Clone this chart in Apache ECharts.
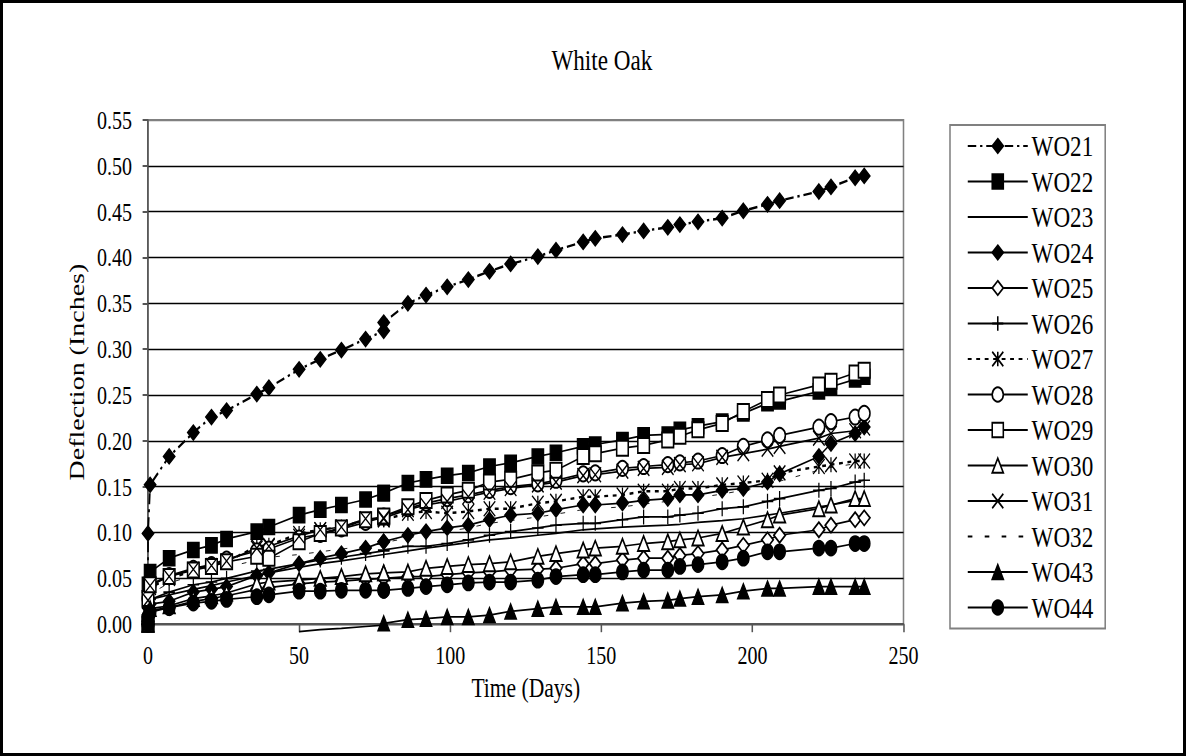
<!DOCTYPE html>
<html>
<head>
<meta charset="utf-8">
<title>White Oak</title>
<script src="https://cdn.jsdelivr.net/npm/echarts@6/dist/echarts.min.js"></script>
<style>
  html, body { margin: 0; padding: 0; background: #fff; }
  #chart { position: absolute; left: 0; top: 0; height: 756px; transform-origin: 0 0; }
  #frame { position: absolute; left: 0; top: 0; width: 1186px; height: 756px; box-sizing: border-box;
           border: 3px solid #000; pointer-events: none; z-index: 2; }
</style>
</head>
<body>
<div id="chart"></div>
<div id="frame"></div>
<script>
// Measurement days (two readings on the load day, two on day 78)
const days = [0, 0, 0.7, 7, 15, 21, 26, 36, 40, 50, 57, 64, 72, 78, 78, 86, 92, 99, 106, 113, 120,
  129, 135, 144, 148, 157, 164, 172, 176, 182, 190, 197, 205, 209, 222, 226, 234, 237];

// Deflection (inches) for each specimen at the days above
const wo21 = [0, 0.099, 0.152, 0.183, 0.209, 0.226, 0.233, 0.251, 0.258, 0.278, 0.289, 0.299, 0.311, 0.320, 0.329,
  0.350, 0.359, 0.368, 0.376, 0.385, 0.393, 0.401, 0.408, 0.417, 0.421, 0.425, 0.429, 0.433, 0.436, 0.439, 0.443,
  0.451, 0.458, 0.462, 0.472, 0.477, 0.487, 0.489];
const wo22 = [0, 0.043, 0.057, 0.072, 0.081, 0.086, 0.093, 0.101, 0.106, 0.119, 0.125, 0.130, 0.136, 0.143, 0.143,
  0.154, 0.158, 0.162, 0.165, 0.172, 0.176, 0.183, 0.187, 0.194, 0.196, 0.201, 0.206, 0.207, 0.212, 0.216, 0.221,
  0.230, 0.241, 0.243, 0.254, 0.259, 0.267, 0.270];
const wo23 = [0, 0.020, 0.027, 0.032, 0.038, 0.042, 0.046, 0.053, 0.056, 0.062, 0.066, 0.069, 0.073, 0.076, 0.076,
  0.080, 0.083, 0.086, 0.089, 0.092, 0.094, 0.097, 0.099, 0.103, 0.104, 0.106, 0.107, 0.108, 0.109, 0.111, 0.113,
  0.115, 0.119, 0.121, 0.128, 0.130, 0.135, 0.137];
const wo24 = [0, 0.018, 0.022, 0.025, 0.035, 0.038, 0.041, 0.053, 0.056, 0.066, 0.072, 0.077, 0.083, 0.090, 0.090,
  0.097, 0.101, 0.105, 0.108, 0.114, 0.119, 0.121, 0.125, 0.130, 0.130, 0.132, 0.135, 0.137, 0.141, 0.141, 0.146,
  0.148, 0.155, 0.164, 0.183, 0.197, 0.208, 0.215];
const wo25 = [0, 0.010, 0.015, 0.018, 0.025, 0.028, 0.031, 0.038, 0.040, 0.044, 0.046, 0.047, 0.049, 0.050, 0.050,
  0.052, 0.052, 0.054, 0.056, 0.057, 0.059, 0.060, 0.061, 0.066, 0.066, 0.070, 0.072, 0.072, 0.075, 0.077, 0.081,
  0.086, 0.092, 0.097, 0.103, 0.108, 0.114, 0.116];
const wo26 = [0, 0.018, 0.027, 0.035, 0.043, 0.046, 0.050, 0.058, 0.060, 0.066, 0.070, 0.073, 0.077, 0.080, 0.081,
  0.085, 0.085, 0.088, 0.092, 0.097, 0.101, 0.105, 0.108, 0.110, 0.110, 0.114, 0.117, 0.117, 0.119, 0.121, 0.126,
  0.128, 0.134, 0.137, 0.146, 0.148, 0.155, 0.157];
const wo27 = [0, 0.025, 0.040, 0.050, 0.058, 0.063, 0.068, 0.085, 0.086, 0.099, 0.103, 0.106, 0.114, 0.114, 0.114,
  0.121, 0.123, 0.121, 0.123, 0.126, 0.126, 0.132, 0.134, 0.139, 0.139, 0.141, 0.145, 0.145, 0.148, 0.148, 0.152,
  0.154, 0.157, 0.165, 0.172, 0.174, 0.178, 0.178];
const wo28 = [0, 0.028, 0.043, 0.053, 0.061, 0.065, 0.071, 0.080, 0.082, 0.094, 0.098, 0.104, 0.111, 0.117, 0.118,
  0.126, 0.132, 0.137, 0.141, 0.146, 0.150, 0.153, 0.157, 0.164, 0.165, 0.170, 0.172, 0.174, 0.176, 0.178, 0.184,
  0.194, 0.201, 0.206, 0.215, 0.221, 0.226, 0.230];
const wo29 = [0, 0.028, 0.043, 0.052, 0.059, 0.063, 0.068, 0.074, 0.072, 0.090, 0.099, 0.105, 0.114, 0.117, 0.118,
  0.128, 0.135, 0.141, 0.146, 0.155, 0.158, 0.165, 0.168, 0.183, 0.186, 0.192, 0.195, 0.201, 0.205, 0.212, 0.219,
  0.232, 0.245, 0.250, 0.261, 0.265, 0.274, 0.277];
const wo30 = [0, 0.012, 0.017, 0.020, 0.028, 0.031, 0.034, 0.044, 0.046, 0.048, 0.050, 0.052, 0.055, 0.056, 0.056,
  0.057, 0.061, 0.063, 0.065, 0.066, 0.068, 0.074, 0.077, 0.081, 0.083, 0.085, 0.088, 0.090, 0.092, 0.094, 0.099,
  0.106, 0.114, 0.119, 0.126, 0.130, 0.137, 0.137];
const wo31 = [0, 0.026, 0.042, 0.052, 0.060, 0.064, 0.069, 0.083, 0.085, 0.096, 0.103, 0.106, 0.115, 0.115, 0.116,
  0.125, 0.130, 0.134, 0.139, 0.144, 0.148, 0.152, 0.155, 0.162, 0.163, 0.167, 0.170, 0.171, 0.174, 0.175, 0.182,
  0.186, 0.191, 0.194, 0.203, 0.208, 0.211, 0.214];
const wo32 = [0, 0.020, 0.033, 0.045, 0.053, 0.057, 0.062, 0.070, 0.073, 0.076, 0.079, 0.082, 0.085, 0.088, 0.089,
  0.094, 0.098, 0.101, 0.105, 0.110, 0.113, 0.117, 0.120, 0.125, 0.126, 0.128, 0.131, 0.134, 0.136, 0.138, 0.142,
  0.146, 0.151, 0.156, 0.168, 0.171, 0.175, 0.177];
const wo43 = [null, null, null, null, null, null, null, null, null, -0.008, -0.006, -0.0045, -0.0025, -0.001, 0.001,
  0.005, 0.006, 0.008, 0.008, 0.010, 0.014, 0.017, 0.019, 0.019, 0.019, 0.023, 0.025, 0.026, 0.028, 0.030, 0.032,
  0.036, 0.039, 0.039, 0.041, 0.041, 0.041, 0.041];
const wo44 = [0, 0.008, 0.013, 0.018, 0.023, 0.025, 0.027, 0.030, 0.032, 0.036, 0.036, 0.037, 0.037, 0.037, 0.037,
  0.039, 0.041, 0.043, 0.045, 0.046, 0.046, 0.048, 0.052, 0.054, 0.054, 0.057, 0.059, 0.059, 0.063, 0.065, 0.068,
  0.072, 0.079, 0.079, 0.083, 0.083, 0.088, 0.088];

const xTicks = [0, 50, 100, 150, 200, 250];
const yTicks = [0, 0.05, 0.10, 0.15, 0.20, 0.25, 0.30, 0.35, 0.40, 0.45, 0.50, 0.55];

// The drawing is laid out wide and squeezed horizontally to get the narrow serif look
const SX = 0.77;
const CW = 1186 / SX;
const px = x => x / SX;
const FONT = "'Liberation Serif', 'Times New Roman', serif";

// Stroke-only marker outlines
const PLUS = 'path://M5,0L5,10M0,5L10,5';
const CROSS = 'path://M0,0L10,10M10,0L0,10';
const STAR = 'path://M0,0L10,10M10,0L0,10M5,0L5,10';

const specs = [
  { name: 'WO21', values: wo21, symbol: 'diamond', type: [11, 5, 3, 5], width: 2.4 },
  { name: 'WO22', values: wo22, symbol: 'rect' },
  { name: 'WO23', values: wo23, symbol: null },
  { name: 'WO24', values: wo24, symbol: 'diamond' },
  { name: 'WO25', values: wo25, symbol: 'emptyDiamond' },
  { name: 'WO26', values: wo26, symbol: PLUS },
  { name: 'WO27', values: wo27, symbol: STAR, type: [5, 6], width: 2.4 },
  { name: 'WO28', values: wo28, symbol: 'emptyCircle' },
  { name: 'WO29', values: wo29, symbol: 'emptyRect' },
  { name: 'WO30', values: wo30, symbol: 'emptyTriangle' },
  { name: 'WO31', values: wo31, symbol: CROSS },
  { name: 'WO32', values: wo32, symbol: null, type: [6, 16], width: 1 },
  { name: 'WO43', values: wo43, symbol: 'triangle', noClip: true },
  { name: 'WO44', values: wo44, symbol: 'circle' }
];

const series = specs.map(s => {
  const data = [];
  days.forEach((d, i) => {
    const v = s.values[i];
    if (v === null) return;
    // readings below the axis keep their line but carry no marker
    data.push(v < 0 ? { value: [d, v], symbol: 'none' } : [d, v]);
  });
  const noMarker = s.symbol === null;
  return {
    name: s.name,
    type: 'line',
    data: data,
    symbol: noMarker ? 'circle' : s.symbol,
    showSymbol: !noMarker,
    symbolSize: [15, 15],
    clip: !s.noClip,
    z: 3,
    lineStyle: { color: '#000', width: s.width || 1.7, type: s.type || 'solid' },
    itemStyle: noMarker
      ? { color: 'transparent', borderWidth: 0 }
      : { color: '#000', borderColor: '#000', borderWidth: 1.6 },
    emphasis: { disabled: true }
  };
});

const gridColors = yTicks.map((t, i) => (i === yTicks.length - 1 ? '#808080' : '#000'));

const chart = echarts.init(document.getElementById('chart'), null,
  { renderer: 'svg', width: CW, height: 756 });
document.getElementById('chart').style.width = CW + 'px';
document.getElementById('chart').style.transform = 'scaleX(' + SX + ')';

chart.setOption({
  animation: false,
  backgroundColor: 'transparent',
  textStyle: { fontFamily: FONT },
  title: {
    text: 'White Oak',
    left: px(598), top: 40, textAlign: 'center',
    textStyle: { fontFamily: FONT, fontSize: 30, fontWeight: 'normal', color: '#000' }
  },
  grid: {
    left: px(148), right: CW - px(903.5), top: 120, bottom: 756 - 624.2,
    show: true, borderColor: '#808080', borderWidth: 2, backgroundColor: 'transparent'
  },
  legend: {
    orient: 'vertical',
    left: px(950), top: 125,
    itemWidth: px(60), itemHeight: 18, itemGap: 5.5,
    padding: [6, px(12), 6, px(17)],
    borderColor: '#808080', borderWidth: 2,
    selectedMode: false,
    textStyle: { fontFamily: FONT, fontSize: 30, color: '#000' },
    data: specs.map(s => s.name)
  },
  xAxis: {
    type: 'value', min: xTicks[0], max: xTicks[xTicks.length - 1], interval: xTicks[1] - xTicks[0],
    name: 'Time (Days)', nameLocation: 'middle', nameGap: 49,
    nameTextStyle: { fontFamily: FONT, fontSize: 28, color: '#000' },
    axisLine: { show: true, onZero: false, lineStyle: { color: '#555', width: 2 } },
    axisTick: { show: true, inside: false, length: 8, lineStyle: { color: '#555', width: 2 } },
    axisLabel: { fontFamily: FONT, fontSize: 26, color: '#000', margin: 18 },
    splitLine: { show: false }
  },
  yAxis: {
    type: 'value', min: yTicks[0], max: yTicks[yTicks.length - 1], interval: 0.05,
    name: 'Deflection (Inches)', nameLocation: 'middle', nameGap: px(61), nameRotate: 90,
    nameTextStyle: { fontFamily: FONT, fontSize: 28, color: '#000' },
    axisLine: { show: true, lineStyle: { color: '#555', width: 2 } },
    axisTick: { show: true, inside: false, length: 7, lineStyle: { color: '#555', width: 2 } },
    axisLabel: { fontFamily: FONT, fontSize: 26, color: '#000', margin: px(16),
      formatter: v => v.toFixed(2) },
    splitLine: { show: true, lineStyle: { color: gridColors, width: 1.4 } }
  },
  series: series
});
</script>
</body>
</html>
